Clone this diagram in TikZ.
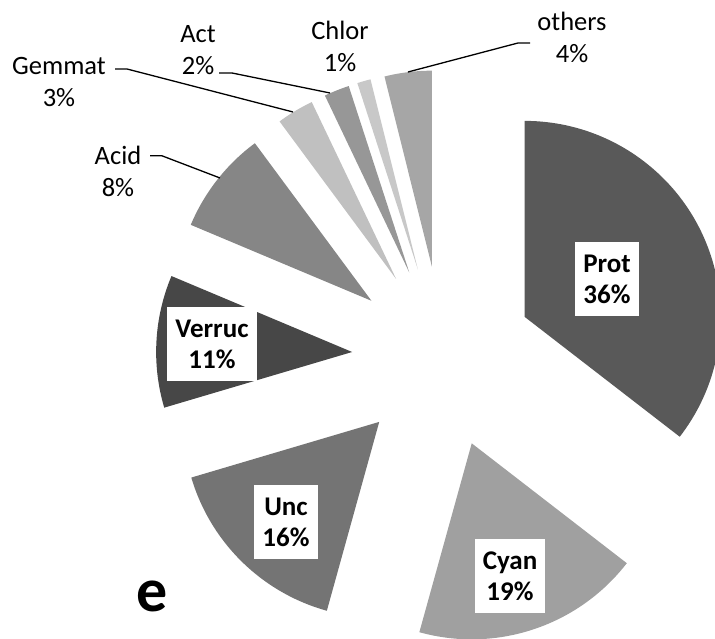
\documentclass[tikz,border=0pt]{standalone}
\usepackage{fontspec}
\setmainfont{Carlito}
\usetikzlibrary{calc}
\definecolor{cProt}{HTML}{595959}
\definecolor{cCyan}{HTML}{A0A0A0}
\definecolor{cUnc}{HTML}{747474}
\definecolor{cVerruc}{HTML}{474747}
\definecolor{cAcid}{HTML}{868686}
\definecolor{cGemmat}{HTML}{C0C0C0}
\definecolor{cAct}{HTML}{979797}
\definecolor{cChlor}{HTML}{C8C8C8}
\definecolor{cOthers}{HTML}{A6A6A6}
\newcommand\mkslice[4]{%
  \coordinate (#1) at ($(C)+({(#2+#3)/2}:91)$);
  \fill[#4] (#1) -- ++(#2:196) arc[start angle=#2, end angle=#3, radius=196] -- cycle;
  \coordinate (#1-mid) at ($(#1)+({(#2+#3)/2}:196)$);}
\tikzset{
  inlbl/.style={fill=white, font=\bfseries\fontsize{27}{31}\selectfont, align=center, inner xsep=8pt, minimum height=74pt},
  outlbl/.style={font=\fontsize{26.5}{32}\selectfont, align=center, inner sep=0pt},
  leader/.style={draw=black, line width=1.3pt}
}
\begin{document}
\begin{tikzpicture}[x=1pt,y=1pt]
\useasboundingbox (0,0) rectangle (715,639);
\clip (0,0) rectangle (715,639);
\coordinate (C) at (443,282);
\mkslice{prot}{-37.7}{90}{cProt}
\mkslice{cyan}{-105.5}{-37.7}{cCyan}
\mkslice{unc}{-163.5}{-105.5}{cUnc}
\mkslice{verruc}{157.2}{196.5}{cVerruc}
\mkslice{acid}{126.5}{157.2}{cAcid}
\mkslice{gemmat}{115.5}{126.5}{cGemmat}
\mkslice{act}{108}{115.5}{cAct}
\mkslice{chlor}{104}{108}{cChlor}
\mkslice{others}{90}{104}{cOthers}
% inside labels
\node[inlbl] (lprot) at (607,360) {Prot\\36\%};
\node[inlbl] (lverruc) at (212,295) {Verruc\\11\%};
\node[inlbl] (lunc) at (286,117) {Unc\\16\%};
\node[inlbl] (lcyan) at (510,63) {Cyan\\19\%};
% outside labels
\node[outlbl] (lgemmat) at (59,557) {Gemmat\\3\%};
\node[outlbl] (lact) at (198,589) {Act\\2\%};
\node[outlbl] (lchlor) at (340,593) {Chlor\\1\%};
\node[outlbl] (lothers) at (572,602) {others\\4\%};
\node[outlbl] (lacid) at (118,468) {Acid\\8\%};
% leaders
\coordinate (gA) at (115,570); \coordinate (gB) at (127,570); \coordinate (gC) at (293,527);
\coordinate (aA) at (219,566); \coordinate (aB) at (232,566); \coordinate (aC) at (330,546);
\coordinate (cA) at (150,483.3); \coordinate (cB) at (161.7,483.3); \coordinate (cC) at (220,461);
\coordinate (oA) at (530,596); \coordinate (oB) at (518,596); \coordinate (oC) at (408,567);
\draw[leader] (gA) -- (gB) -- (gC);
\draw[leader] (aA) -- (aB) -- (aC);
\draw[leader] (cA) -- (cB) -- (cC);
\draw[leader] (oA) -- (oB) -- (oC);
% panel letter
\node[font=\bfseries\fontsize{62}{70}\selectfont, inner sep=0pt] (letter) at (152,43) {e};
\end{tikzpicture}
\end{document}
